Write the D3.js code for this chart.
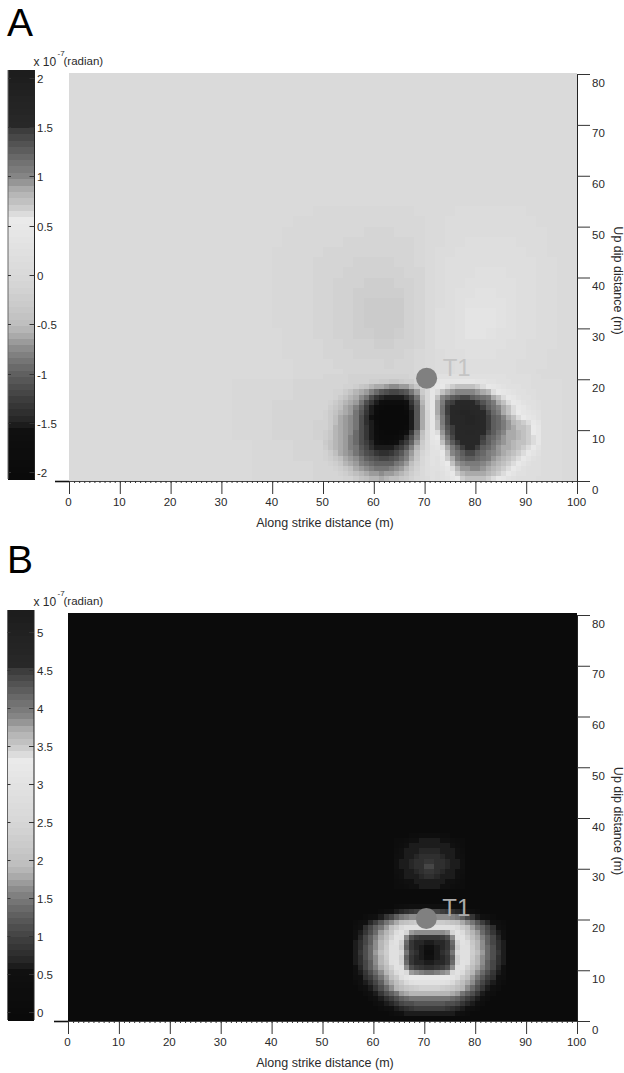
<!DOCTYPE html>
<html><head><meta charset="utf-8">
<script src="https://cdn.jsdelivr.net/npm/d3@7"></script>
<style>html,body{margin:0;background:#fff}svg{display:block}text{font-family:"Liberation Sans",Arial,sans-serif;fill:#2a2a2a}</style>
</head><body><svg id="c" width="624" height="1073"></svg>
<script>
// Values are in hundredths of 1e-7 radian.
const xTicks=[0,10,20,30,40,50,60,70,80,90,100];
const yTicks=[0,10,20,30,40,50,60,70,80];
const barTicksA=[-2,-1.5,-1,-0.5,0,0.5,1,1.5,2];
const barTicksB=[0,0.5,1,1.5,2,2.5,3,3.5,4,4.5,5];
const barDomainA=[-2.07,2.08];
const barDomainB=[-0.1,5.29];
const grayFrac=[0,.125,.137,.193,.257,.315,.352,.377,.438,.499,.56,.619,.636,.643,.67,.707,.738,.78,.817,.853,.866,.927,1];
const grayLevel=[10,16,34,60,95,135,170,190,205,217,225,232,235,225,200,175,135,110,85,60,40,35,28];
const baseA=3, baseB=5;
const t1=[70.4,20.2];
// A middle field: 2 m cells, x=36..94, rows y=52 down to 20
const midA=[
[3,3,3,3,3,3,-3,-3,-3,-3,-3,-3,-3,-3,-3,-3,3,3,3,3,10,10,10,10,10,10,10,3,3,3],
[3,3,3,3,-3,-3,-3,-3,-3,-3,-3,-3,-3,-3,-3,-3,-3,3,3,10,10,10,10,10,10,10,10,10,3,3],
[3,3,3,-3,-3,-3,-3,-3,-3,-3,-3,-10,-10,-10,-3,-3,-3,3,3,10,10,10,10,10,10,10,10,10,10,3],
[3,3,3,-3,-3,-3,-3,-3,-3,-10,-10,-10,-10,-10,-10,-10,-3,3,3,10,10,16,16,16,16,16,10,10,10,3],
[3,3,-3,-3,-3,-3,-3,-10,-10,-10,-10,-10,-10,-10,-10,-10,-3,3,10,10,16,16,16,16,16,16,16,10,10,3],
[3,3,-3,-3,-3,-3,-10,-10,-10,-10,-16,-16,-16,-16,-10,-10,-3,3,10,16,16,16,16,16,16,16,16,16,10,10],
[3,3,-3,-3,-3,-3,-10,-10,-10,-16,-16,-16,-16,-16,-16,-10,-10,3,10,16,16,16,24,24,24,16,16,16,10,10],
[3,3,-3,-3,-3,-3,-10,-10,-16,-16,-16,-22,-22,-22,-16,-16,-10,3,10,16,16,24,24,24,24,24,16,16,10,10],
[3,3,-3,-3,-3,-3,-10,-10,-16,-16,-22,-22,-22,-22,-22,-16,-10,3,10,16,24,24,30,30,24,24,16,16,10,10],
[3,3,-3,-3,-3,-3,-10,-10,-16,-16,-22,-28,-28,-28,-28,-16,-10,3,10,16,24,30,30,30,30,24,16,16,10,10],
[3,3,-3,-3,-3,-3,-10,-10,-16,-16,-22,-28,-28,-28,-28,-16,-10,3,16,16,24,36,36,36,30,24,16,16,10,10],
[3,3,-3,-3,-3,-3,-10,-10,-16,-16,-22,-28,-28,-28,-28,-16,-10,3,16,16,24,36,36,36,30,24,16,16,10,10],
[3,3,3,-3,-3,-3,-10,-10,-16,-16,-22,-22,-28,-28,-22,-16,-10,3,16,16,24,36,36,30,24,24,16,16,10,10],
[3,3,3,-3,-3,-3,-3,-10,-10,-16,-16,-16,-22,-22,-16,-16,-10,3,16,16,24,24,24,24,24,16,16,10,10,10],
[3,3,3,-3,-3,-3,-3,-10,-10,-10,-16,-16,-16,-16,-16,-10,-3,3,10,16,16,24,24,24,16,16,16,10,10,3],
[3,3,3,3,-3,-3,-3,-3,-10,-10,-10,-10,-10,-16,-10,-10,-3,3,10,10,16,16,16,16,16,16,10,10,10,3],
[3,3,3,3,-3,-3,-3,-3,-3,-10,-10,-10,-10,-10,-10,-10,-3,3,10,10,16,16,16,16,16,16,10,10,3,3]];
// A lower margins: 4 m cells, x=32..48, rows y=16 down to 0
const lowLeftA=[
[-3,-3,-3,-10,-10],
[-3,-3,-10,-10,-10],
[-3,-3,-10,-10,-16],
[3,-3,-3,-10,-10],
[3,-3,-3,-3,-10]];
// A lower margin right: 4 m cells, x=93, rows y=16 down to 0
const lowRightA=[[10],[10],[10],[10],[10]];
// A detail: 1 m cells, x=50..92, rows y=20 down to 0
const detailA=[
[-10,-10,-12,-12,-12,-15,-15,-15,-15,-15,-15,-15,-18,-18,-18,-18,-15,-12,-8,-5,0,20,20,20,25,25,25,25,25,25,25,25,25,22,20,20,18,18,15,15,15,12,12],
[-10,-10,-12,-12,-12,-15,-15,-15,-18,-20,-25,-28,-30,-32,-32,-30,-25,-20,-12,-5,5,30,35,40,45,45,45,45,45,40,35,35,30,28,25,22,20,18,18,15,15,12,12],
[-10,-10,-12,-12,-15,-18,-25,-32,-42,-52,-58,-62,-68,-72,-72,-70,-65,-55,-35,-12,5,30,40,50,60,70,72,74,74,72,68,60,50,42,35,30,25,22,20,18,15,12,12],
[-10,-12,-15,-18,-28,-42,-52,-60,-68,-80,-95,-108,-115,-118,-118,-115,-105,-90,-68,-30,0,40,60,75,88,95,100,102,102,100,95,88,80,65,52,42,35,30,25,20,18,15,12],
[-10,-12,-18,-28,-42,-55,-62,-72,-90,-110,-130,-145,-150,-152,-152,-150,-140,-118,-88,-48,0,45,78,100,115,130,135,138,138,130,120,112,105,88,75,62,50,40,32,25,20,18,12],
[-12,-15,-28,-42,-55,-62,-70,-90,-112,-135,-152,-170,-180,-185,-185,-180,-160,-132,-98,-55,0,45,85,110,138,148,152,155,155,152,145,135,120,105,88,75,65,52,42,32,25,20,15],
[-12,-22,-35,-50,-58,-65,-78,-98,-125,-150,-175,-200,-205,-210,-210,-205,-185,-148,-105,-60,-5,45,88,115,145,152,156,160,160,156,152,148,130,115,98,85,72,60,50,40,30,25,18],
[-15,-28,-42,-52,-60,-68,-85,-108,-135,-155,-190,-210,-210,-210,-210,-210,-200,-150,-108,-62,-8,45,85,112,145,152,158,165,165,160,155,150,140,122,105,90,78,65,55,45,35,28,20],
[-18,-30,-48,-58,-65,-72,-88,-110,-138,-158,-195,-210,-210,-210,-210,-210,-205,-152,-108,-62,-8,45,82,108,142,150,156,162,165,165,160,155,148,130,118,100,85,75,65,55,45,35,25],
[-18,-30,-50,-60,-67,-73,-90,-110,-136,-155,-190,-210,-210,-210,-210,-210,-205,-150,-105,-60,-10,45,78,105,140,150,155,160,165,165,160,153,148,130,118,105,92,82,75,69,62,50,35],
[-15,-30,-52,-60,-67,-73,-90,-110,-135,-153,-180,-205,-210,-210,-210,-210,-200,-150,-105,-60,-10,45,72,100,135,148,155,158,162,162,158,152,145,130,118,105,92,85,78,72,66,55,40],
[-22,-35,-52,-60,-67,-75,-92,-112,-135,-152,-175,-200,-205,-205,-205,-190,-165,-130,-90,-50,-5,45,65,95,125,145,152,155,158,158,155,150,140,125,112,100,90,85,80,74,68,58,42],
[-25,-38,-52,-60,-68,-78,-92,-112,-132,-150,-170,-195,-200,-200,-190,-168,-145,-115,-78,-40,0,40,55,85,112,138,150,152,155,155,152,148,130,118,105,95,88,85,80,75,70,62,45],
[-28,-42,-55,-62,-70,-80,-95,-110,-128,-148,-165,-185,-190,-180,-165,-148,-125,-98,-65,-30,5,35,45,75,100,125,145,150,152,152,150,140,125,112,100,92,85,82,78,74,70,60,40],
[-22,-40,-52,-60,-68,-78,-90,-105,-120,-138,-150,-155,-155,-150,-140,-125,-105,-82,-55,-20,5,30,38,62,90,110,130,145,150,150,145,130,118,105,95,88,85,80,75,70,62,50,30],
[-15,-30,-48,-58,-65,-72,-85,-98,-110,-122,-132,-138,-138,-132,-122,-108,-90,-70,-42,-12,10,30,30,50,78,100,115,130,140,140,130,120,110,100,92,85,80,75,70,62,50,35,22],
[-15,-22,-35,-50,-60,-68,-75,-88,-98,-108,-115,-118,-118,-112,-105,-92,-78,-58,-32,-5,15,30,25,42,68,90,105,118,125,125,120,112,105,95,88,80,75,70,62,50,35,25,18],
[-10,-15,-25,-38,-52,-62,-68,-78,-88,-95,-100,-102,-100,-98,-90,-78,-65,-48,-25,0,15,30,22,35,55,78,92,100,105,105,105,100,95,88,80,75,70,62,50,35,25,18,15],
[-10,-12,-18,-25,-35,-50,-60,-68,-75,-82,-85,-85,-85,-80,-75,-68,-55,-38,-15,5,15,25,20,28,45,65,82,92,95,98,98,95,90,82,75,70,62,50,38,25,18,15,15],
[-8,-10,-12,-18,-22,-32,-48,-55,-62,-68,-70,-72,-70,-65,-60,-55,-42,-25,-8,5,15,25,18,22,35,52,70,80,85,88,88,85,80,75,68,60,50,38,25,20,15,15,15],
[-8,-10,-10,-12,-15,-18,-28,-40,-48,-52,-55,-58,-55,-50,-45,-38,-28,-15,-5,5,12,20,18,20,28,40,55,68,72,75,75,72,68,60,50,40,30,22,18,15,15,15,12]];
// B ring: 1 m cells, x=56..85, rows y=22 down to 1
const ringB=[
[5,5,5,5,5,5,5,5,30,40,45,50,55,55,55,55,55,55,50,45,40,30,5,5,5,5,5,5,5,5],
[5,5,5,5,5,30,45,57,62,70,80,90,95,100,100,100,100,95,90,80,70,62,57,45,30,5,5,5,5,5],
[5,5,30,45,57,64,85,105,125,145,155,160,165,165,165,165,165,165,160,155,145,125,105,85,64,57,45,30,5,5],
[30,45,57,72,95,120,145,165,180,195,205,215,220,225,225,225,225,220,215,205,195,180,165,145,120,95,72,57,45,30],
[40,57,75,100,125,150,175,195,225,260,285,292,292,292,292,292,292,292,292,285,260,225,195,175,150,125,100,75,57,40],
[50,64,90,115,140,170,190,215,270,300,250,172,165,160,160,160,160,165,172,250,300,270,215,190,170,140,115,90,64,50],
[57,72,100,125,155,180,200,235,295,290,160,110,94,88,88,88,88,94,110,160,290,295,235,200,180,155,125,100,72,57],
[60,78,105,130,160,185,215,280,295,240,140,85,72,66,62,62,66,72,85,140,240,295,280,215,185,160,130,105,78,60],
[64,82,112,135,165,190,225,292,292,225,125,85,70,62,50,50,62,70,85,125,225,292,292,225,190,165,135,112,82,64],
[64,85,115,137,168,193,230,292,292,255,145,94,75,64,40,40,64,75,94,145,255,292,292,230,193,168,137,115,85,64],
[64,82,112,135,165,190,225,292,292,230,125,85,70,62,50,50,62,70,85,125,230,292,292,225,190,165,135,112,82,64],
[60,78,105,130,160,185,215,285,295,235,135,85,72,66,60,60,66,72,85,135,235,295,285,215,185,160,130,105,78,60],
[57,72,100,125,155,180,200,240,295,285,165,110,94,85,82,82,85,94,110,165,285,295,240,200,180,155,125,100,72,57],
[50,64,88,112,140,165,188,210,275,300,265,172,160,155,150,150,155,160,172,265,300,275,210,188,165,140,112,88,64,50],
[45,57,75,95,120,150,172,195,225,280,305,320,325,325,325,325,325,325,320,305,280,225,195,172,150,120,95,75,57,45],
[30,50,62,80,105,130,160,180,195,225,265,290,295,295,295,295,295,295,290,265,225,195,180,160,130,105,80,62,50,30],
[5,35,50,64,85,110,135,165,185,195,210,225,230,235,235,235,235,230,225,210,195,185,165,135,110,85,64,50,35,5],
[5,5,35,50,64,88,110,130,150,170,180,185,190,190,190,190,190,190,185,180,170,150,130,110,88,64,50,35,5,5],
[5,5,5,35,50,62,80,95,110,125,140,145,150,150,150,150,150,150,145,140,125,110,95,80,62,50,35,5,5,5],
[5,5,5,5,35,50,60,68,85,100,110,115,118,118,118,118,118,118,115,110,100,85,68,60,50,35,5,5,5,5],
[5,5,5,5,5,30,45,57,62,70,82,90,94,94,94,94,94,94,90,82,70,62,57,45,30,5,5,5,5,5],
[5,5,5,5,5,5,5,30,45,57,60,62,64,64,64,64,64,64,62,60,57,45,30,5,5,5,5,5,5,5]];
// B upper patch: 1 m cells, x=64..77, rows y=36 down to 26
const patchB=[
[5,5,5,20,30,35,40,40,35,30,20,5,5,5],
[20,30,40,50,57,58,58,58,58,57,50,40,30,20],
[30,40,50,58,60,62,62,62,62,60,58,50,40,30],
[40,55,58,62,64,66,68,68,66,64,62,58,55,40],
[45,57,60,64,68,75,78,78,75,68,64,60,57,45],
[50,58,62,66,75,80,85,85,80,75,66,62,58,50],
[50,58,62,66,75,82,100,100,82,75,66,62,58,50],
[45,57,60,64,70,78,85,85,78,70,64,60,57,45],
[40,50,58,62,64,68,75,75,68,64,62,58,50,40],
[30,40,50,57,60,62,64,64,62,60,57,50,40,30],
[20,30,40,50,57,58,60,60,58,57,50,40,30,20]];

const svg=d3.select("#c");
const fracToGray=d3.scaleLinear().domain(grayFrac).range(grayLevel);
const levels=64;
function cmap(domain){
  const f=d3.scaleQuantize().domain(domain).range(d3.range(levels).map(i=>(i+.5)/levels));
  return v=>{const g=Math.round(fracToGray(f(v)));return d3.rgb(g,g,g)+""};
}
function cells(rows,x0,yTop,step){
  return rows.flatMap((r,j)=>r.map((v,i)=>({x:x0+i*step,y:yTop-j*step,s:step,v:v/100})));
}
function panel(o){
  const g=svg.append("g");
  const x=d3.scaleLinear([0,100],o.xr), y=d3.scaleLinear([0,80],o.yr);
  const color=cmap(o.barDomain);
  g.append("rect").attr("x",o.xr[0]).attr("y",o.fieldTop).attr("width",o.xr[1]-o.xr[0]).attr("height",o.yr[0]-o.fieldTop).attr("fill",color(o.base/100));
  g.append("g").attr("shape-rendering","crispEdges").selectAll("rect").data(o.cells).join("rect")
    .attr("x",d=>x(d.x)).attr("y",d=>y(d.y+d.s)).attr("width",d=>x(d.x+d.s)-x(d.x)).attr("height",d=>y(d.y)-y(d.y+d.s)).attr("fill",d=>color(d.v));
  const yb=d3.scaleLinear(o.barDomain,o.barRange);
  const step=(o.barDomain[1]-o.barDomain[0])/levels;
  g.append("g").attr("shape-rendering","crispEdges").selectAll("rect").data(d3.range(levels)).join("rect")
    .attr("x",o.barX).attr("width",26.5).attr("y",i=>yb(o.barDomain[0]+(i+1)*step)).attr("height",i=>yb(o.barDomain[0]+i*step)-yb(o.barDomain[0]+(i+1)*step)+.5)
    .attr("fill",i=>color(o.barDomain[0]+(i+.5)*step));
  g.append("line").attr("x1",o.barX+26.5).attr("x2",o.barX+26.5).attr("y1",o.barRange[1]).attr("y2",o.barRange[0]).attr("stroke","#222");
  g.append("line").attr("x1",o.barX).attr("x2",o.barX).attr("y1",o.barRange[1]).attr("y2",o.barRange[0]).attr("stroke","#666");
  const bt=g.append("g").selectAll("g").data(o.barTicks).join("g").attr("transform",d=>`translate(0,${Math.round(yb(d))+.5})`);
  bt.append("line").attr("x1",o.barX+21.5).attr("x2",o.barX+26.5).attr("stroke","#333");
  bt.append("line").attr("x1",o.barX).attr("x2",o.barX+3).attr("stroke","#333");
  bt.append("text").attr("x",37).attr("y",4).attr("font-size",11.5).text(d=>d);
  const hy=o.barRange[1];
  g.append("text").attr("x",33.5).attr("y",hy-4).attr("font-size",12).text("x 10");
  g.append("text").attr("x",57.5).attr("y",hy-14).attr("font-size",8).text("-7");
  g.append("text").attr("x",63.5).attr("y",hy-5).attr("font-size",11.5).text("(radian)");
  const ax=g.append("g").attr("transform",`translate(0,${o.yr[0]})`);
  ax.call(d3.axisBottom(x).tickValues(d3.range(0,101)).tickSize(2).tickFormat("").tickSizeOuter(0));
  ax.select(".domain").attr("stroke","#444");
  ax.selectAll(".tick line").attr("stroke","#333");
  const ax2=g.append("g").attr("transform",`translate(0,${o.yr[0]})`);
  ax2.call(d3.axisBottom(x).tickValues(xTicks).tickSize(13).tickSizeOuter(0).tickPadding(4));
  ax2.select(".domain").remove();
  ax2.selectAll("line").attr("stroke","#333");
  ax2.selectAll("text").attr("font-size",11.5).attr("fill","#2a2a2a").attr("dx",-1);
  g.append("line").attr("x1",o.xr[0]-14).attr("x2",o.xr[0]).attr("y1",o.yr[0]+.5).attr("y2",o.yr[0]+.5).attr("stroke","#111").attr("stroke-width",1.6);
  const ay=g.append("g").attr("transform",`translate(${o.xr[1]},0)`);
  ay.call(d3.axisRight(y).tickValues(yTicks).tickSize(13).tickSizeOuter(0).tickPadding(2));
  ay.select(".domain").attr("stroke","#222");
  ay.selectAll("line").attr("stroke","#333");
  ay.selectAll("text").attr("font-size",11.5).attr("fill","#2a2a2a").attr("dy",12);
  g.selectAll(".tick text").style("font-family",'"Liberation Sans",Arial,sans-serif');
  g.append("text").attr("x",325).attr("y",o.yr[0]+46).attr("text-anchor","middle").attr("font-size",12.5).text("Along strike distance (m)");
  g.append("text").attr("transform",`translate(613.5,${y(39.4)}) rotate(90)`).attr("text-anchor","middle").attr("font-size",12.5).text("Up dip distance (m)");
  g.append("circle").attr("cx",x(t1[0])).attr("cy",y(t1[1])).attr("r",10.5).attr("fill","#808080");
  g.append("text").attr("x",x(t1[0])+16).attr("y",y(t1[1])-2).attr("font-size",24).style("fill",o.t1Color).text("T1");
  g.append("text").attr("x",o.lx).attr("y",o.ly).attr("font-size",39).style("fill","#000").text(o.letter);
}
panel({letter:"A",lx:7,ly:36,xr:[69,577],yr:[481,74],fieldTop:73,barDomain:barDomainA,barRange:[479,70],barX:8,barTicks:barTicksA,base:baseA,t1Color:"#c4c4c4",
  cells:[...cells(midA,36,52,2),...cells(lowLeftA,32,16,4),...cells(lowRightA,93,16,4),...cells(detailA,50,20,1)]});
panel({letter:"B",lx:7,ly:573,xr:[68,577],yr:[1021,615],fieldTop:613,barDomain:barDomainB,barRange:[1020,610],barX:7.5,barTicks:barTicksB,base:baseB,t1Color:"#ababab",
  cells:[...cells(patchB,64,36,1),...cells(ringB,56,22,1)]});
</script></body></html>
